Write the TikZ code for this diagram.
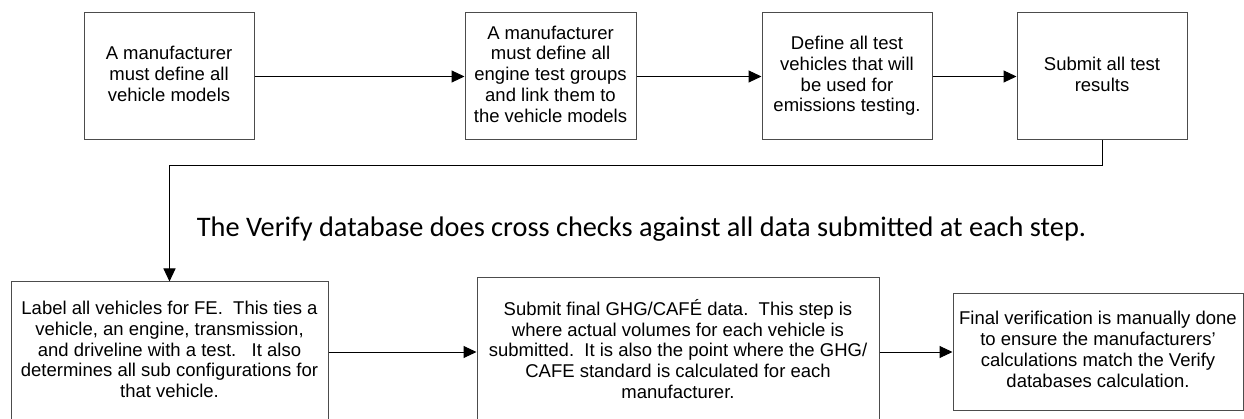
\documentclass[tikz,border=0pt]{standalone}
\usepackage{fontspec}
\usetikzlibrary{arrows.meta}
\newfontfamily\arialfont{Liberation Sans}
\newfontfamily\calfont{Carlito}
\newcommand\boxtext[2]{\raisebox{#1}{\begin{tabular}{@{}c@{}}#2\end{tabular}}}
\begin{document}
\begin{tikzpicture}[x=1pt,y=-1pt,
  box/.style={draw=black!70, line width=1pt, fill=white, inner sep=0pt,
    font=\arialfont\fontsize{18.5}{20.8}\selectfont},
  conn/.style={draw=black, line width=1pt},
  arr/.style={conn, -{Triangle[length=13pt,width=12pt]}}]
\useasboundingbox (0,0) rectangle (1244,419);
\begin{scope}
\clip (0,0) rectangle (1244,419);
\node[box, minimum width=170, minimum height=127] (b1) at (169,76.5)
  {\boxtext{-1pt}{A manufacturer\\must define all\\vehicle models}};
\node[box, minimum width=171, minimum height=127] (b2) at (550.5,76.5)
  {\boxtext{0pt}{A manufacturer\\must define all\\engine test groups\\and link them to\\the vehicle models}};
\node[box, minimum width=170, minimum height=127] (b3) at (847,76.5)
  {\boxtext{0pt}{Define all test\\vehicles that will\\be used for\\emissions testing.}};
\node[box, minimum width=170, minimum height=127] (b4) at (1102,76.5)
  {\boxtext{0pt}{Submit all test\\results}};
\node[box, minimum width=317, minimum height=140] (b5) at (169.5,352)
  {\boxtext{4pt}{Label all vehicles for FE.\ \ This ties a\\vehicle, an engine, transmission,\\and driveline with a test.\ \ \ It also\\determines all sub configurations for\\that vehicle.}};
\node[box, minimum width=402, minimum height=148] (b6) at (678,352)
  {\boxtext{6pt}{Submit final GHG/CAFÉ data.\ \ This step is\\where actual volumes for each vehicle is\\submitted.\ \ It is also the point where the GHG/\\CAFE standard is calculated for each\\manufacturer.}};
\node[box, minimum width=290, minimum height=117] (b7) at (1098,352)
  {\boxtext{-4pt}{Final verification is manually done\\to ensure the manufacturers’\\calculations match the Verify\\databases calculation.}};
\node[font=\calfont\fontsize{28.3}{32}\selectfont, anchor=base, inner sep=0pt] (note) at (641.5,237)
  {The Verify database does cross checks against all data submitted at each step.};
\draw[arr] (b1) -- (b2);
\draw[arr] (b2) -- (b3);
\draw[arr] (b3) -- (b4);
\draw[arr] (b4.south) -- ++(0,25) -| (b5.north);
\draw[arr] (b5) -- (b6);
\draw[arr] (b6) -- (b7);
\end{scope}
\end{tikzpicture}
\end{document}
